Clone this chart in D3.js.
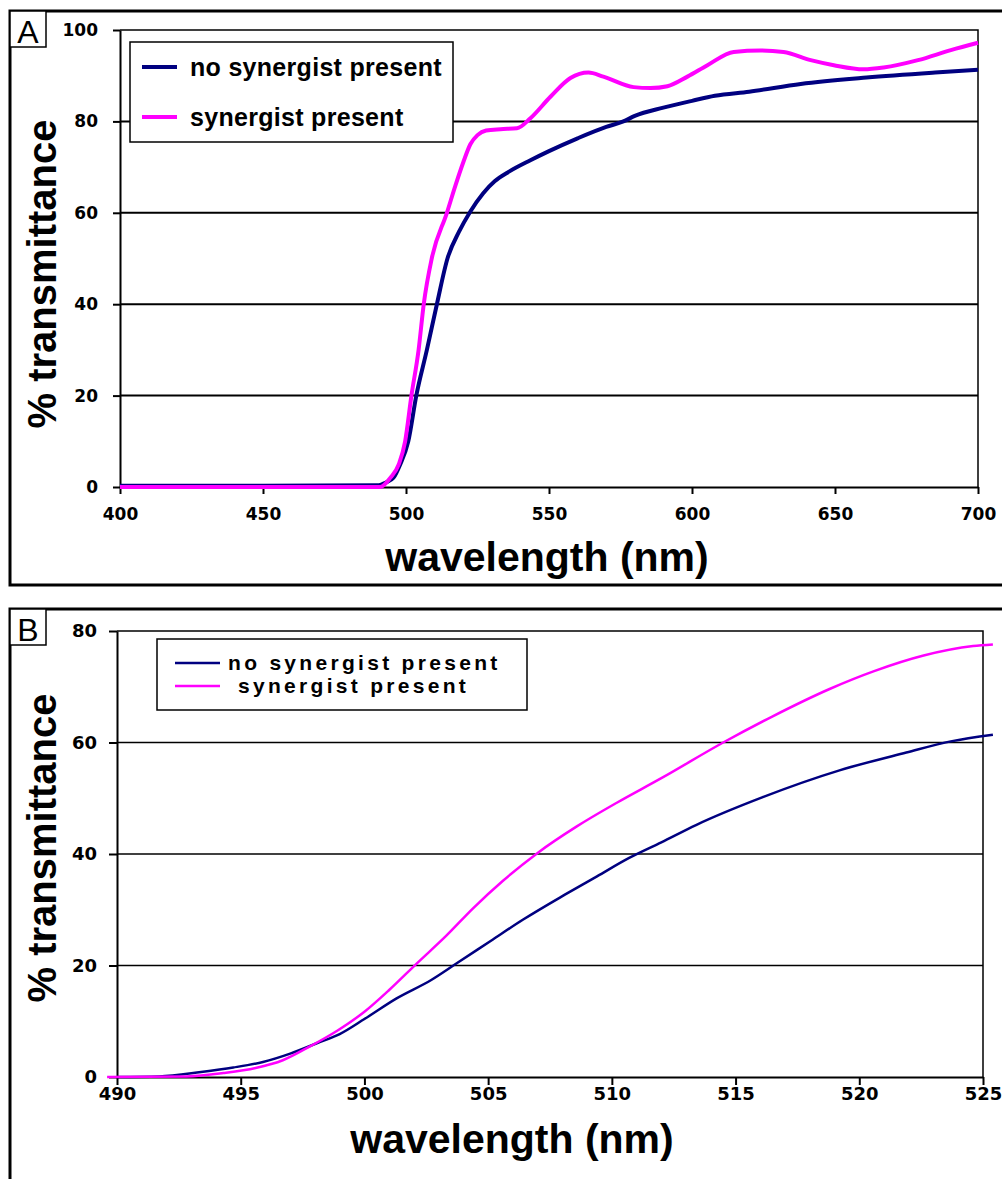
<!DOCTYPE html>
<html>
<head>
<meta charset="utf-8">
<script src="https://cdn.jsdelivr.net/npm/d3@7"></script>
<style>
  body { margin: 0; background: #fff; }
  svg { display: block; }
</style>
</head>
<body>
<div id="chart"></div>
<script>
// ---- data ----
const seriesNames = ["no synergist present", "synergist present"];
const seriesColors = ["#000080", "#ff00ff"];

// panel A: 400-700 nm
const wlA_noSyn = [400, 450, 490, 493, 495.6, 498, 500.8, 503.6, 507.3, 510.8, 514.5, 518.5, 522.5, 527, 531, 536, 543.5, 550, 560, 570, 576, 580, 590, 600, 608, 620, 638, 661, 685, 700];
const tA_noSyn  = [0.3, 0.3, 0.4, 1, 2, 5, 10, 20, 30, 40, 50, 55.8, 60.3, 64.3, 66.9, 69, 71.5, 73.5, 76.3, 78.8, 80, 81.2, 83, 84.5, 85.6, 86.5, 88.2, 89.6, 90.7, 91.3];
const wlA_syn = [400, 491, 494.5, 497.5, 499.7, 501.9, 504.4, 506.2, 509, 514.3, 517.3, 520, 522.5, 525, 528, 533, 538.8, 543.5, 550.5, 557.5, 563.8, 569, 579.6, 585.5, 591.4, 598.4, 605.4, 614.6, 624, 632, 641.5, 649.6, 660, 667, 679, 690.5, 700];
const tA_syn  = [0, 0, 2, 5, 10, 20, 30, 40, 50, 60, 66, 71, 75, 77, 78, 78.3, 78.5, 80.7, 85.4, 89.5, 90.7, 89.8, 87.5, 87.3, 87.7, 89.8, 92.3, 95.2, 95.5, 95.2, 93.4, 92.3, 91.4, 91.8, 93.4, 95.6, 97.2];

// panel B: 490-525 nm
const wlB_noSyn = [490, 491.7, 493.4, 494.7, 495.9, 497, 498.1, 499, 500, 501.3, 502.7, 503.7, 505.1, 506.4, 508.1, 509.4, 510.7, 512, 513.4, 516.1, 519.2, 521.9, 523.7, 525.4];
const tB_noSyn  = [0, 0.1, 0.9, 1.7, 2.7, 4.2, 6.1, 7.7, 10.4, 14.1, 17.4, 20.3, 24.4, 28.2, 32.7, 36, 39.3, 42.1, 45.2, 50.2, 55, 58.2, 60.2, 61.4];
const wlB_syn = [489.6, 492.8, 494.3, 495.6, 496.7, 497.8, 498.9, 500, 501, 502.1, 503.3, 504.4, 505.6, 507, 508.6, 510.2, 512, 514.5, 516.5, 518.8, 520.6, 522.6, 524.6, 525.4];
const tB_syn  = [0, 0.1, 0.7, 1.6, 3, 5.5, 8.3, 11.7, 15.6, 20.3, 25.3, 30.3, 35.2, 40.2, 45, 49.2, 53.6, 60, 64.7, 69.6, 72.8, 75.6, 77.3, 77.6];

const ticksA_x = [400, 450, 500, 550, 600, 650, 700];
const ticksA_y = [0, 20, 40, 60, 80, 100];
const ticksB_x = [490, 495, 500, 505, 510, 515, 520, 525];
const ticksB_y = [0, 20, 40, 60, 80];

const W = 1002, H = 1179;
const tickFont = "'DejaVu Sans', sans-serif";
const textFont = "'Liberation Sans', Arial, sans-serif";

const svg = d3.select("#chart").append("svg")
    .attr("width", W)
    .attr("height", H)
    .attr("viewBox", [0, 0, W, H]);

svg.append("rect").attr("width", W).attr("height", H).attr("fill", "#fff");

function zip(a, b) { return a.map((v, i) => [v, b[i]]); }

function drawPanel(p) {
    const g = svg.append("g");

    // outer frame
    g.append("path")
        .attr("d", p.framePath)
        .attr("fill", "none")
        .attr("stroke", "#000")
        .attr("stroke-width", 3);

    // panel letter
    g.append("rect")
        .attr("x", 10).attr("y", p.frameTop)
        .attr("width", 36).attr("height", 36)
        .attr("fill", "#fff").attr("stroke", "#000").attr("stroke-width", 1.5);
    g.append("text")
        .attr("x", 28).attr("y", p.frameTop + 32)
        .attr("text-anchor", "middle")
        .attr("font-family", textFont)
        .attr("font-size", 32)
        .text(p.letter);

    const x = d3.scaleLinear().domain(p.xDomain).range([p.left, p.right]);
    const y = d3.scaleLinear().domain(p.yDomain).range([p.bottom, p.top]);

    // gridlines
    g.append("g")
        .selectAll("line")
        .data(p.yTicks.filter(d => d !== p.yDomain[0] && d !== p.yDomain[1]))
        .join("line")
        .attr("x1", p.left).attr("x2", p.right)
        .attr("y1", d => y(d)).attr("y2", d => y(d))
        .attr("stroke", "#000")
        .attr("stroke-width", p.gridWidth);

    // top and right border of the plot
    g.append("path")
        .attr("d", `M${p.left},${p.top}H${p.right}V${p.bottom}`)
        .attr("fill", "none")
        .attr("stroke", "#000")
        .attr("stroke-width", 1.5);

    // axes
    const yAxis = g.append("g")
        .attr("transform", `translate(${p.left},0)`)
        .call(d3.axisLeft(y).tickValues(p.yTicks).tickSize(p.tickLen).tickSizeOuter(0).tickPadding(p.yPad));
    const xAxis = g.append("g")
        .attr("transform", `translate(0,${p.bottom})`)
        .call(d3.axisBottom(x).tickValues(p.xTicks).tickSize(p.tickLen).tickSizeOuter(0).tickPadding(p.xPad));

    [yAxis, xAxis].forEach(a => {
        a.select(".domain").attr("stroke-width", 2);
        a.selectAll(".tick line").attr("stroke-width", 2);
        a.selectAll("text")
            .attr("font-family", tickFont)
            .attr("font-weight", "bold")
            .attr("font-size", p.tickFontSize)
            .attr("fill", "#000");
    });

    // axis titles
    g.append("text")
        .attr("x", p.xTitle[0]).attr("y", p.xTitle[1])
        .attr("text-anchor", "middle")
        .attr("font-family", textFont)
        .attr("font-weight", "bold")
        .attr("font-size", 41)
        .text("wavelength (nm)");
    g.append("text")
        .attr("transform", `translate(${p.yTitle[0]},${p.yTitle[1]}) rotate(-90)`)
        .attr("text-anchor", "middle")
        .attr("font-family", textFont)
        .attr("font-weight", "bold")
        .attr("font-size", 40)
        .text("% transmittance");

    // legend
    const lg = g.append("g");
    lg.append("rect")
        .attr("x", p.legend.x).attr("y", p.legend.y)
        .attr("width", p.legend.w).attr("height", p.legend.h)
        .attr("fill", "#fff").attr("stroke", "#000").attr("stroke-width", 1.5);
    seriesNames.forEach((name, i) => {
        const ly = p.legend.rows[i];
        lg.append("line")
            .attr("x1", p.legend.lineX[0]).attr("x2", p.legend.lineX[1])
            .attr("y1", ly).attr("y2", ly)
            .attr("stroke", seriesColors[i])
            .attr("stroke-width", p.lineWidth);
        lg.append("text")
            .attr("x", p.legend.textX[i])
            .attr("y", ly + p.legend.baseOff)
            .attr("font-family", textFont)
            .attr("font-weight", "bold")
            .attr("font-size", p.legend.fontSize)
            .attr("letter-spacing", p.legend.spacing)
            .text(name);
    });

    // series
    const line = d3.line()
        .x(d => x(d[0]))
        .y(d => y(d[1]))
        .curve(d3.curveMonotoneX);

    p.series.forEach((s, i) => {
        g.append("path")
            .datum(s)
            .attr("fill", "none")
            .attr("stroke", seriesColors[i])
            .attr("stroke-width", p.lineWidth)
            .attr("stroke-linejoin", "round")
            .attr("d", line);
    });
}

drawPanel({
    letter: "A",
    frameTop: 11,
    framePath: "M1004,11H10V585H1004",
    xDomain: [400, 700], yDomain: [0, 100],
    left: 120, right: 978, top: 30, bottom: 487,
    xTicks: ticksA_x, yTicks: ticksA_y,
    tickLen: 7, xPad: 14, yPad: 15, tickFontSize: 17,
    gridWidth: 2, lineWidth: 4,
    xTitle: [547, 571], yTitle: [56, 274],
    legend: {
        x: 130, y: 42, w: 323, h: 100,
        rows: [67, 117], lineX: [142, 177], textX: [190, 190],
        baseOff: 9, fontSize: 25, spacing: 0.3
    },
    series: [zip(wlA_noSyn, tA_noSyn), zip(wlA_syn, tA_syn)]
});

drawPanel({
    letter: "B",
    frameTop: 609,
    framePath: "M1004,609H10V1181",
    xDomain: [490, 525], yDomain: [0, 80],
    left: 117, right: 983, top: 631, bottom: 1077,
    xTicks: ticksB_x, yTicks: ticksB_y,
    tickLen: 8, xPad: 2, yPad: 12, tickFontSize: 18,
    gridWidth: 1.5, lineWidth: 2.5,
    xTitle: [512, 1153], yTitle: [56, 848],
    legend: {
        x: 157, y: 639, w: 370, h: 71,
        rows: [663, 686], lineX: [175, 220], textX: [228, 238],
        baseOff: 7, fontSize: 21, spacing: 3.3
    },
    series: [zip(wlB_noSyn, tB_noSyn), zip(wlB_syn, tB_syn)]
});
</script>
</body>
</html>
